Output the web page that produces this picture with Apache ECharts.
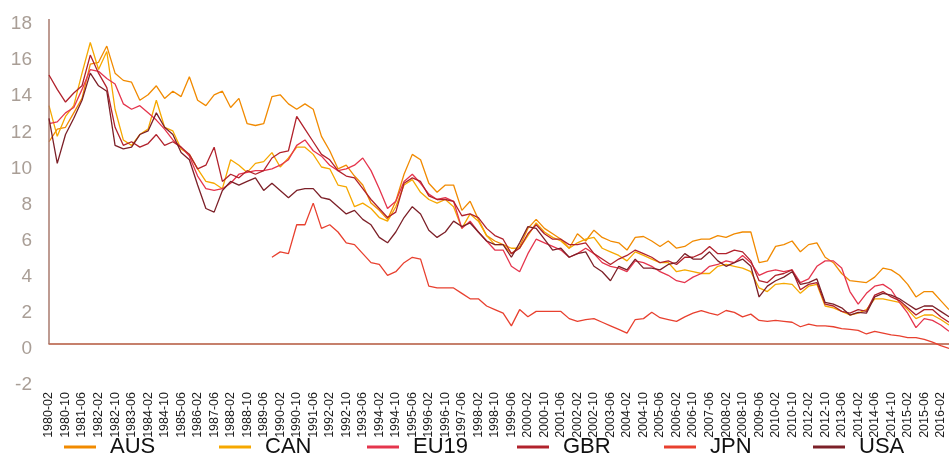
<!DOCTYPE html>
<html>
<head>
<meta charset="utf-8">
<script src="https://cdn.jsdelivr.net/npm/echarts@6/dist/echarts.min.js"></script>
<style>
  html, body { margin: 0; padding: 0; background: #fff; }
  #chart { width: 949px; height: 457px; }
</style>
</head>
<body>
<div id="chart"></div>
<script>
// categories (every 4th observation of the source series)
const months = [
  '1980-02','1980-06','1980-10','1981-02','1981-06','1981-10','1982-02','1982-06','1982-10','1983-02',
  '1983-06','1983-10','1984-02','1984-06','1984-10','1985-02','1985-06','1985-10','1986-02','1986-10',
  '1987-06','1987-10','1988-02','1988-06','1988-10','1989-02','1989-06','1989-10','1990-02','1990-06',
  '1990-10','1991-02','1991-06','1991-10','1992-02','1992-06','1992-10','1993-02','1993-06','1993-10',
  '1994-02','1994-06','1994-10','1995-02','1995-06','1995-10','1996-02','1996-06','1996-10','1997-02',
  '1997-06','1997-10','1998-02','1998-06','1998-10','1999-02','1999-06','1999-10','2000-02','2000-06',
  '2000-10','2001-02','2001-06','2001-10','2002-02','2002-06','2002-10','2003-02','2003-06','2003-10',
  '2004-02','2004-06','2004-10','2005-02','2005-06','2005-10','2006-02','2006-06','2006-10','2007-02',
  '2007-06','2007-10','2008-02','2008-06','2008-10','2009-02','2009-06','2009-10','2010-02','2010-06',
  '2010-10','2011-06','2012-02','2012-06','2012-10','2013-02','2013-06','2013-10','2014-02','2014-04',
  '2014-06','2014-08','2014-10','2014-12','2015-02','2015-04','2015-06','2015-10','2016-02','2016-06'
];

const aus = [
  11.2,11.9,12.0,12.8,13.6,15.5,15.6,16.5,15.0,14.6,
  14.5,13.5,13.8,14.3,13.6,14.0,13.7,14.8,13.5,13.2,
  13.8,14.0,13.1,13.6,12.2,12.1,12.2,13.7,13.8,13.3,
  13.0,13.3,13.0,11.5,10.7,9.7,9.9,9.3,8.8,7.8,
  7.4,6.9,7.9,9.4,10.5,10.2,8.9,8.4,8.8,8.8,
  7.4,7.9,6.9,6.0,5.7,5.5,5.0,5.4,6.4,6.9,
  6.4,6.1,5.8,5.3,6.1,5.7,6.3,5.9,5.7,5.6,
  5.2,5.9,5.95,5.7,5.4,5.7,5.3,5.4,5.7,5.8,
  5.8,6.0,5.9,6.1,6.2,6.2,4.5,4.6,5.4,5.5,
  5.7,5.1,5.5,5.6,4.8,4.5,3.9,3.5,3.45,3.4,
  3.7,4.2,4.1,3.8,3.3,2.6,2.9,2.9,2.4,1.9
];

const can = [
  13.2,11.5,12.6,13.2,15.0,16.7,15.2,16.2,13.0,11.3,
  11.0,11.6,11.9,13.5,12.0,11.8,10.8,10.5,9.7,9.0,
  8.9,8.6,10.2,9.9,9.5,10.0,10.1,10.6,9.8,10.3,
  10.9,10.9,10.5,9.8,9.7,8.8,8.7,7.6,7.8,7.5,
  7.0,6.8,7.6,8.8,9.1,8.4,8.0,7.8,8.0,7.6,
  6.4,7.2,6.8,6.0,5.5,5.5,5.3,5.3,6.0,6.7,
  6.2,5.9,5.7,5.3,5.6,5.8,5.9,5.3,5.1,4.9,
  4.6,5.1,4.9,4.7,4.5,4.5,4.0,4.1,4.0,3.9,
  3.9,4.3,4.4,4.3,4.2,4.0,3.1,2.9,3.3,3.35,
  3.3,2.8,3.2,3.3,2.1,2.0,1.8,1.6,1.7,1.9,
  2.5,2.5,2.4,2.3,1.9,1.4,1.6,1.6,1.35,1.05
];

const eu19 = [
  12.2,12.3,12.8,13.1,14.1,15.2,15.1,14.7,14.4,13.3,
  13.0,13.2,12.8,12.4,11.9,11.3,10.9,10.4,9.3,8.6,
  8.5,8.6,8.9,9.4,9.5,9.6,9.6,9.7,9.9,10.2,
  11.0,11.3,10.7,10.4,9.9,9.6,9.7,9.9,10.3,9.6,
  8.6,7.5,7.9,9.0,9.4,8.9,8.3,8.0,8.1,7.9,
  6.4,6.8,6.2,5.7,5.2,5.2,4.3,4.0,5.0,5.8,
  5.6,5.4,5.2,4.8,5.0,5.3,5.0,4.5,4.3,4.2,
  4.0,4.6,4.5,4.3,4.0,3.8,3.5,3.4,3.7,3.9,
  4.3,4.4,4.6,4.5,4.9,4.5,3.8,4.0,4.1,4.0,
  4.1,3.4,3.6,4.3,4.6,4.6,4.2,2.9,2.2,2.8,
  3.2,3.3,3.0,2.3,1.7,0.9,1.4,1.3,1.05,0.7
];

const gbr = [
  14.9,14.1,13.4,13.9,14.3,16.0,15.0,14.2,12.0,11.0,
  11.2,10.9,11.1,11.6,11.0,11.2,10.9,10.5,9.7,9.9,
  10.9,9.0,9.4,9.2,9.6,9.4,9.6,10.3,10.6,10.7,
  12.6,11.9,11.2,10.5,10.2,9.6,9.3,9.2,8.6,8.0,
  7.5,7.0,7.3,8.9,9.2,9.0,8.2,8.0,8.0,7.9,
  7.1,7.2,7.0,6.4,6.0,5.8,5.0,5.3,6.1,6.6,
  6.1,5.8,5.8,5.5,5.5,5.6,5.0,4.7,4.4,4.7,
  4.9,5.2,5.0,4.8,4.5,4.6,4.4,4.8,4.8,5.0,
  5.4,5.0,5.0,5.2,5.1,4.6,3.5,3.4,3.8,3.9,
  4.1,3.0,3.3,3.4,2.2,2.1,1.8,1.7,1.9,1.8,
  2.7,2.9,2.6,2.4,2.0,1.6,1.9,1.9,1.5,1.2
];

const jpn = [
  null,null,null,null,null,null,null,null,null,null,
  null,null,null,null,null,null,null,null,null,null,
  null,null,null,null,null,null,null,4.8,5.1,5.0,
  6.6,6.6,7.8,6.4,6.6,6.2,5.6,5.5,5.0,4.5,
  4.4,3.8,4.0,4.5,4.8,4.7,3.2,3.1,3.1,3.1,
  2.8,2.5,2.5,2.1,1.9,1.7,1.0,1.9,1.5,1.8,
  1.8,1.8,1.8,1.4,1.25,1.35,1.4,1.2,1.0,0.8,
  0.6,1.35,1.4,1.75,1.45,1.35,1.25,1.5,1.7,1.85,
  1.7,1.6,1.85,1.75,1.5,1.65,1.3,1.25,1.3,1.25,
  1.2,0.95,1.1,1.0,1.0,0.95,0.85,0.8,0.75,0.55,
  0.7,0.6,0.5,0.45,0.35,0.35,0.25,0.1,-0.1,-0.25
];

const usa = [
  12.5,10.0,11.6,12.5,13.5,15.0,14.3,14.0,11.0,10.8,
  10.9,11.6,11.8,12.8,12.0,11.6,10.6,10.2,8.8,7.5,
  7.3,8.5,9.0,8.8,9.0,9.2,8.5,8.9,8.5,8.1,
  8.5,8.6,8.6,8.1,8.0,7.6,7.2,7.4,6.9,6.6,
  5.9,5.6,6.2,7.0,7.6,7.2,6.3,5.9,6.2,6.8,
  6.5,6.7,6.2,5.7,5.5,5.5,4.8,5.6,6.5,6.4,
  5.8,5.2,5.3,4.8,5.0,5.1,4.3,4.0,3.5,4.3,
  4.1,4.7,4.2,4.2,4.1,4.4,4.5,5.0,4.7,4.7,
  5.1,4.6,4.3,4.5,4.7,4.3,2.6,3.2,3.5,3.7,
  4.0,3.3,3.4,3.6,2.3,2.2,2.0,1.6,1.75,1.7,
  2.6,2.8,2.7,2.5,2.2,1.9,2.1,2.1,1.8,1.5
];

const names = ['AUS', 'CAN', 'EU19', 'GBR', 'JPN', 'USA'];
const values = [aus, can, eu19, gbr, jpn, usa];
const colors = ['#f18a00', '#f6a800', '#e5354d', '#b1222c', '#e8402f', '#7c2028'];

const yTicks = { min: -2, max: 18, interval: 2 };

const chart = echarts.init(document.getElementById('chart'), null, { renderer: 'canvas' });

const series = names.map((n, i) => ({
  name: n,
  type: 'line',
  data: values[i],
  showSymbol: false,
  symbol: 'none',
  connectNulls: false,
  lineStyle: { width: 1.3, color: colors[i] },
  itemStyle: { color: colors[i] },
  emphasis: { disabled: true },
  z: 2 + i
}));

// vertical axis line only from 0 up to 18, like the original
series[0].clip = false;
series[0].markLine = {
  silent: true,
  symbol: ['none', 'none'],
  label: { show: false },
  animation: false,
  emphasis: { disabled: true },
  lineStyle: { color: '#a97a6e', width: 1.5, type: 'solid' },
  data: [[{ xAxis: 0, yAxis: 0 }, { xAxis: 0, yAxis: yTicks.max }]]
};

// one legend per entry so the entries sit in equal cells
const legendLeft = [59, 214, 362, 512, 659, 808];
const legends = names.map((n, i) => ({
  data: [n],
  left: legendLeft[i],
  top: 431,
  icon: 'rect',
  itemWidth: 32,
  itemHeight: 3,
  selectedMode: false,
  textStyle: {
    fontSize: 22,
    color: '#111',
    fontFamily: 'Liberation Sans, Arial, sans-serif',
    padding: [0, 0, 0, 9]
  }
}));

chart.setOption({
  animation: false,
  color: colors,
  grid: { left: 49, right: 0, top: 19, bottom: 77, containLabel: false, outerBoundsMode: 'none' },
  legend: legends,
  xAxis: {
    type: 'category',
    data: months,
    boundaryGap: false,
    axisLine: { onZero: true, lineStyle: { color: '#b4573d', width: 1.5 } },
    axisTick: { show: false },
    splitLine: { show: false },
    axisLabel: {
      interval: 1,
      rotate: 90,
      margin: 12,
      fontSize: 12.5,
      color: '#1a1a1a',
      fontFamily: 'Liberation Sans, Arial, sans-serif'
    }
  },
  yAxis: {
    type: 'value',
    min: yTicks.min,
    max: yTicks.max,
    interval: yTicks.interval,
    axisLine: { show: false },
    axisTick: { show: false },
    splitLine: { show: false },
    axisLabel: {
      margin: 17,
      fontSize: 19,
      color: '#a99e96',
      fontFamily: 'Liberation Sans, Arial, sans-serif',
      verticalAlign: 'top',
      lineHeight: 10
    }
  },
  series: series
});
</script>
</body>
</html>
